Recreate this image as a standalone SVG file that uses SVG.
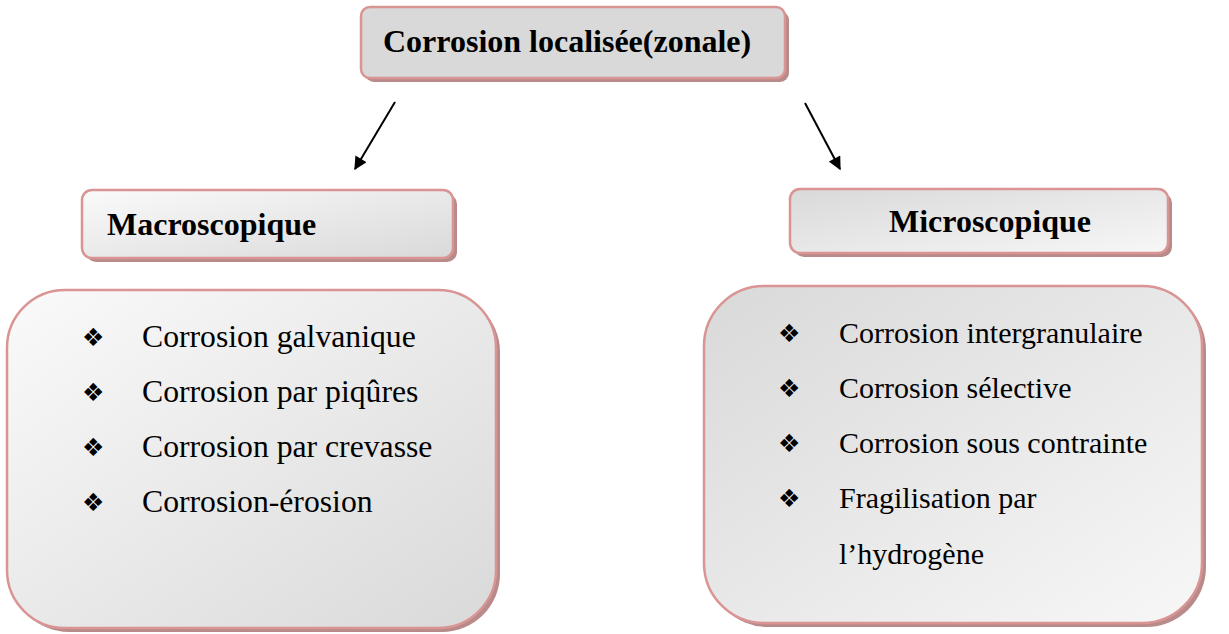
<svg xmlns="http://www.w3.org/2000/svg" width="1229" height="634" viewBox="0 0 1229 634">
<defs>
<linearGradient id="gLight" x1="0" y1="0" x2="1" y2="1">
<stop offset="0" stop-color="#fafafa"/><stop offset="1" stop-color="#d9d9d9"/>
</linearGradient>
<linearGradient id="gDark" x1="0" y1="0" x2="1" y2="1">
<stop offset="0" stop-color="#d9d9d9"/><stop offset="1" stop-color="#f7f7f7"/>
</linearGradient>
<marker id="ah" viewBox="0 0 10 10" refX="9" refY="5" markerWidth="7.5" markerHeight="6.5" orient="auto" markerUnits="strokeWidth">
<path d="M0,0 L10,5 L0,10 z" fill="#000"/>
</marker>
</defs>
<style>
.shadow{fill:#b88a8a;}
.box{stroke:#d99594;stroke-width:2.5;}
.title{font-weight:bold;font-size:32px;fill:#000;}
.bul{font-size:25px;fill:#000;}
.conn{stroke:#000;stroke-width:2;fill:none;marker-end:url(#ah);}
</style>
<rect width="1229" height="634" fill="#fff"/>
<g id="root">
<rect class="shadow" x="365" y="11" width="424" height="71" rx="9"/>
<rect class="box" x="361" y="7" width="424" height="71" rx="9" fill="#d9d9d9"/>
<text class="title" font-family="'Liberation Serif', 'Times New Roman', serif" x="383" y="52">Corrosion localisée(zonale)</text>
</g>
<g id="macro">
<rect class="shadow" x="86" y="194" width="371" height="68" rx="10"/>
<rect class="box" x="82" y="190" width="371" height="68" rx="10" fill="url(#gLight)"/>
<text class="title" font-family="'Liberation Serif', 'Times New Roman', serif" x="107" y="235">Macroscopique</text>
</g>
<g id="micro">
<rect class="shadow" x="794" y="193" width="378" height="64" rx="10"/>
<rect class="box" x="790" y="189" width="378" height="64" rx="10" fill="url(#gDark)"/>
<text class="title" font-family="'Liberation Serif', 'Times New Roman', serif" x="990" y="232" text-anchor="middle">Microscopique</text>
</g>
<g id="macro-list" font-family="'Liberation Serif', 'Times New Roman', serif" font-size="31.7">
<rect class="shadow" x="11" y="294" width="489" height="338" rx="58"/>
<rect class="box" x="7" y="290" width="489" height="338" rx="58" fill="url(#gLight)"/>
<g font-family="'DejaVu Sans', sans-serif">
<text class="bul" x="82" y="346">❖</text>
<text class="bul" x="82" y="401">❖</text>
<text class="bul" x="82" y="456">❖</text>
<text class="bul" x="82" y="511">❖</text>
</g>
<text x="142" y="347">Corrosion galvanique</text>
<text x="142" y="402">Corrosion par piqûres</text>
<text x="142" y="457">Corrosion par crevasse</text>
<text x="142" y="512">Corrosion-érosion</text>
</g>
<g id="micro-list" font-family="'Liberation Serif', 'Times New Roman', serif" font-size="30">
<rect class="shadow" x="708" y="290" width="498" height="337" rx="60"/>
<rect class="box" x="704" y="286" width="498" height="337" rx="60" fill="url(#gDark)"/>
<g font-family="'DejaVu Sans', sans-serif">
<text class="bul" x="778" y="342">❖</text>
<text class="bul" x="778" y="397">❖</text>
<text class="bul" x="778" y="452">❖</text>
<text class="bul" x="778" y="507">❖</text>
</g>
<text x="839" y="343">Corrosion intergranulaire</text>
<text x="839" y="398">Corrosion sélective</text>
<text x="839" y="453">Corrosion sous contrainte</text>
<text x="839" y="508">Fragilisation par</text>
<text x="839" y="564">l’hydrogène</text>
</g>
<g id="connectors">
<line class="conn" x1="395" y1="102" x2="355" y2="169"/>
<line class="conn" x1="805" y1="103" x2="840" y2="169"/>
</g>
</svg>
